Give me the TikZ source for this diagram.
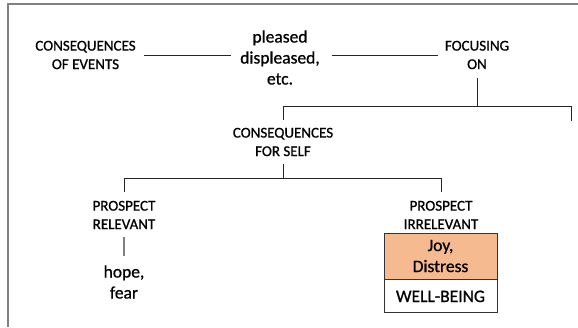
\documentclass[tikz,border=0pt]{standalone}
\usepackage{fontspec}
\setmainfont{Carlito}[RawFeature={embolden=0.8}]
\begin{document}
\begin{tikzpicture}[x=1pt,y=-1pt,
  caps/.style={align=center,inner sep=0pt,font=\fontsize{15}{18.5}\selectfont},
  words/.style={align=center,inner sep=0pt,font=\fontsize{17.5}{21}\selectfont},
  link/.style={draw=black!85,line width=0.9pt},
  softlink/.style={draw=black!50,line width=1.4pt},
  frame/.style={draw=black!50,line width=1.5pt},
  cell/.style={draw=black!80,line width=0.9pt,minimum width=113pt,inner sep=0pt,
    align=center,font=\fontsize{17.5}{21}\selectfont}]
\useasboundingbox (0,0) rectangle (578,327);
\fill[white] (0,0) rectangle (578,327);
% outer frame (top and left edges)
\draw[frame] (8,327) -- (8,4) -- (578,4);

% text nodes
\node[caps]  (ev) at (85.5,55)  {CONSEQUENCES\\OF EVENTS};
\node[words] (pl) at (280,57.5) {pleased\\displeased,\\etc.};
\node[caps]  (fo) at (477,55)   {FOCUSING\\ON};
\node[caps]  (cs) at (283,142)  {CONSEQUENCES\\FOR SELF};
\node[caps]  (pr) at (124,215)  {PROSPECT\\RELEVANT};
\node[caps]  (pi) at (441,215)  {PROSPECT\\IRRELEVANT};
\node[words] (hf) at (124,282)  {hope,\\fear};
\node[cell,fill={rgb,255:red,245;green,186;blue,144},minimum height=46pt]
  (jd) at (440.5,256) {Joy,\\Distress};
\node[cell,fill=white,minimum height=33pt,anchor=north] (wb) at (jd.south) {WELL-BEING};

% branch levels
\coordinate (bar1) at (0,106);
\coordinate (bar2) at (0,178);
\coordinate (rEnd) at (571,121);

% connectors
\draw[link] ([xshift=8pt]ev.east) -- ([xshift=-9pt]pl.west |- ev.east);
\draw[link] ([xshift=12pt]pl.east |- fo.west) -- ([xshift=-7pt]fo.west);
\draw[link] ([yshift=-8.5pt]fo.south) -- (fo.south |- bar1);
\draw[link] ([yshift=7.5pt]cs.north) |- (rEnd |- bar1) -- (rEnd);
\draw[link] ([yshift=-7.5pt]cs.south) -- (cs.south |- bar2);
\draw[link] ([yshift=8.5pt]pr.north) |- (pi.north |- bar2) -- ([yshift=8.5pt]pi.north);
\draw[softlink] ([yshift=-8pt]pr.south) -- ([yshift=9pt]hf.north);
\end{tikzpicture}
\end{document}
